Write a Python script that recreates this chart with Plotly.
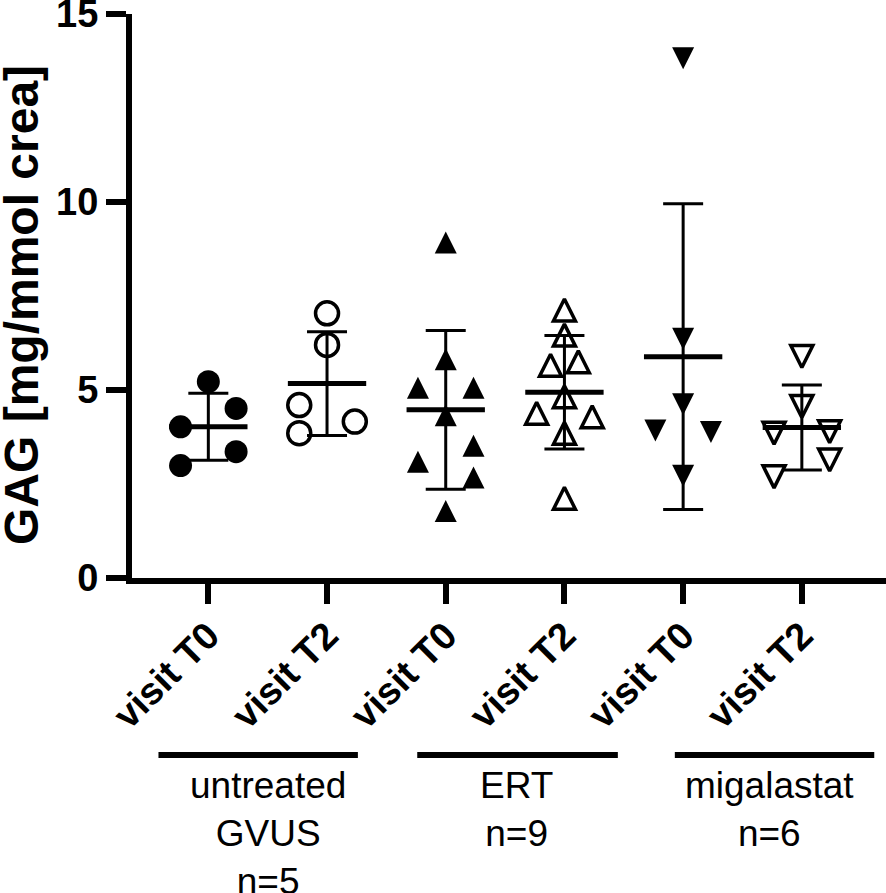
import numpy as np
import plotly.graph_objects as go

# GAG values per group (mg/mmol crea)
cats = ['visit T0', 'visit T2', 'visit T0', 'visit T2', 'visit T0', 'visit T2']
untreated_t0 = [5.22, 4.51, 4.02, 3.36, 2.99]
untreated_t2 = [7.04, 6.20, 4.60, 4.16, 3.85]
ert_t0 = [8.92, 5.82, 5.06, 5.06, 4.33, 3.52, 3.09, 2.67, 1.78]
ert_t2 = [7.13, 6.46, 5.66, 5.75, 4.82, 4.38, 4.29, 3.85, 2.12]
mig_t0 = [13.82, 6.36, 4.62, 3.92, 3.88, 2.72]
mig_t2 = [5.89, 4.56, 3.85, 3.89, 3.14, 2.69]

# horizontal scatter slot of every point (half-slot units)
slots_u0 = [0, 2, -2, 2, -2]
slots_u2 = [0, 0, -2, 2, -2]
slots_e0 = [0, 0, -2, 2, 0, 2, -2, 2, 0]
slots_e2 = [0, 0, -1, 1, 0, -2, 2, 0, 0]
slots_m0 = [0, 0, 0, -2, 2, 0]
slots_m2 = [0, 0, -2, 2, 2, -2]

groups = ['untreated<br>GVUS<br>n=5', 'ERT<br>n=9', 'migalastat<br>n=6']

series = [untreated_t0, untreated_t2, ert_t0, ert_t2, mig_t0, mig_t2]
slots = [slots_u0, slots_u2, slots_e0, slots_e2, slots_m0, slots_m2]
symbols = ['circle', 'circle', 'arrow-down', 'arrow-down', 'arrow-down', 'arrow-down']
angles = [0, 0, 180, 180, 0, 0]
filled = [True, False, True, False, True, False]

FONT = 'Liberation Sans, Arial, sans-serif'
half = 0.117

fig = go.Figure()

# mean line and SD whiskers
for i, vals in enumerate(series):
    m = np.mean(vals)
    sd = np.std(vals, ddof=1)
    fig.add_trace(go.Scatter(
        x=[i], y=[m], mode='markers',
        marker=dict(size=1, color='rgba(0,0,0,0)'),
        error_y=dict(type='data', array=[sd], visible=True,
                     color='black', thickness=3, width=20),
        showlegend=False, hoverinfo='skip'))
    fig.add_trace(go.Scatter(
        x=[i - 0.33, i + 0.33], y=[m, m], mode='lines',
        line=dict(color='black', width=5),
        showlegend=False, hoverinfo='skip'))

# points
for i, vals in enumerate(series):
    xs = [i + s * half for s in slots[i]]
    is_tri = symbols[i] != 'circle'
    size = 22 if is_tri else 23
    fig.add_trace(go.Scatter(
        x=xs, y=vals, mode='markers',
        marker=dict(
            symbol=symbols[i], size=size, angle=angles[i],
            standoff=size / 2 if is_tri else 0,
            color='black' if filled[i] else 'rgba(0,0,0,0)',
            line=dict(color='black', width=0 if filled[i] else 3.5)),
        showlegend=False))

# group bars under the tick labels
bar_x = [(-0.42, 1.26), (1.76, 3.45), (3.93, 5.61)]
label_x = [0.50, 2.60, 4.73]
for (x0, x1), lx, g in zip(bar_x, label_x, groups):
    fig.add_shape(type='line', xref='x', yref='paper', x0=x0, x1=x1,
                  y0=-0.314, y1=-0.314, line=dict(color='black', width=6))
    fig.add_annotation(x=lx, y=-0.328, xref='x', yref='paper', text=g,
                       showarrow=False, yanchor='top', xanchor='center',
                       font=dict(family=FONT, size=37, color='black'))

fig.add_annotation(x=0, y=0.484, xref='paper', yref='paper', xshift=-111,
                   text='GAG [mg/mmol crea]', textangle=-90, showarrow=False,
                   xanchor='center', yanchor='middle',
                   font=dict(family=FONT, size=48, color='black', weight='bold'))

fig.update_layout(
    width=886, height=893,
    margin=dict(l=132, r=0, t=14, b=315),
    plot_bgcolor='white', paper_bgcolor='white',
    xaxis=dict(range=[-0.643, 5.709], tickvals=list(range(6)), ticktext=cats,
               tickangle=-45, showgrid=False, zeroline=False, automargin=False,
               showline=True, linecolor='black', linewidth=6,
               ticks='outside', ticklen=20, tickwidth=6, tickcolor='black',
               ticklabelstandoff=-6,
               tickfont=dict(family=FONT, size=38, color='black', weight='bold')),
    yaxis=dict(range=[0, 15], tickvals=[0, 5, 10, 15], showgrid=False,
               zeroline=False, showline=True, linecolor='black', linewidth=6,
               ticks='outside', ticklen=20, tickwidth=6, tickcolor='black',
               ticklabeloverflow='allow', automargin=False,
               tickfont=dict(family=FONT, size=38, color='black', weight='bold')),
)

fig.write_html('out.html', config={'displayModeBar': False},
               post_script="document.body.style.margin='0';")
